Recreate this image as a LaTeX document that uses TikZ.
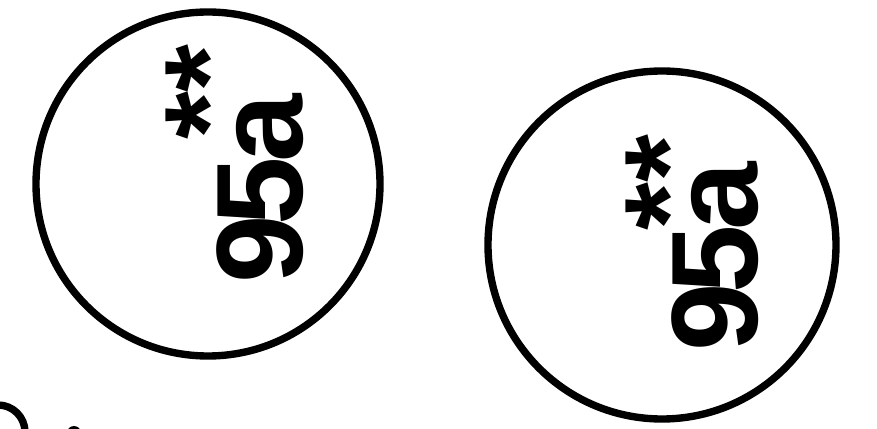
\documentclass[tikz,border=0pt]{standalone}
\usepackage{fontspec}
\setmainfont{Liberation Sans}
\begin{document}
\begin{tikzpicture}[x=0.02cm,y=-0.02cm,
  seal/.style={line width=4.2pt,black},
  stamp/.style={rotate=90,anchor=base west,inner sep=0pt,
    font=\fontsize{70pt}{70pt}\selectfont\bfseries}]
  \useasboundingbox (0,0) rectangle (877,429);
  \clip (0,0) rectangle (877,429);
  % two round seals
  \draw[seal] (208,184) circle (172);
  \draw[seal] (662,245) circle (174);
  % edge of a third seal, cut off by the page
  \draw[seal] (-2,432) circle (27);
  \fill (74,433) circle (7);
  \node[stamp] (markA) at (302,284) {9\kern-0.08em5\kern-0.05em a\kern-0.37em\raisebox{0.42em}{**}};
  \node[stamp] (markB) at (757,352) {9\kern-0.08em5\kern-0.05em a\kern-0.55em\raisebox{0.38em}{**}};
\end{tikzpicture}
\end{document}
